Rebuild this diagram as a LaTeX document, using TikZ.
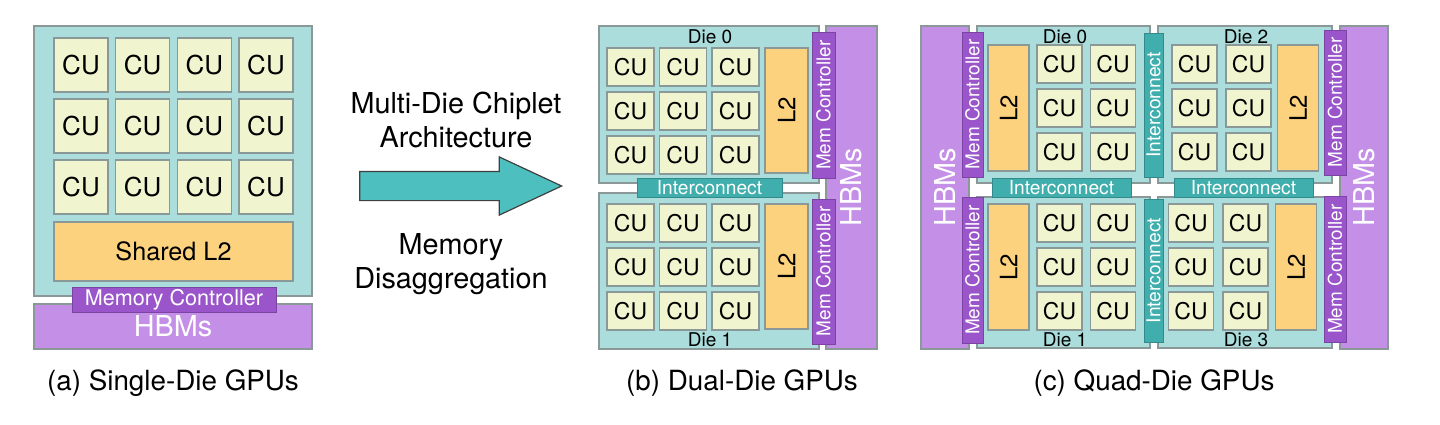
\documentclass[tikz,border=0pt]{standalone}
\usepackage{fontspec}
\setmainfont{TeX Gyre Heros}
\usetikzlibrary{shapes.arrows,positioning}
\definecolor{dieBg}{HTML}{AADDDB}
\definecolor{cuFill}{HTML}{F0F5D0}
\definecolor{lTwo}{HTML}{FDD27F}
\definecolor{memCtl}{HTML}{9A55CA}
\definecolor{hbmFill}{HTML}{C38FE7}
\definecolor{icFill}{HTML}{3FAEAC}
\definecolor{arrFill}{HTML}{4CBFBE}
\definecolor{edge}{HTML}{8A9898}

\newcommand{\fs}[1]{\fontsize{#1}{1.25\dimexpr#1pt\relax}\selectfont}

\begin{document}
\begin{tikzpicture}[x=0.5pt, y=-0.5pt, font=\fs{9.5},
  bx/.style={draw=edge, line width=0.6pt, inner sep=0pt},
  sz/.style 2 args={minimum width=#1, minimum height=#2},
  die/.style={bx, fill=dieBg},
  cu/.style={bx, fill=cuFill},
  ltwo/.style={bx, fill=lTwo},
  mc/.style={draw=memCtl!80!black, line width=0.4pt, fill=memCtl, text=white, inner sep=0pt},
  hbm/.style={bx, fill=hbmFill, text=white, font=\fs{14.4}},
  ic/.style={draw=icFill!80!black, line width=0.4pt, fill=icFill, text=white, inner sep=0pt, font=\fs{9.6}},
  lbl/.style={inner sep=0pt, font=\fs{9.5}},
  arrtxt/.style={align=center, font=\fontsize{14.4}{17}\selectfont},
  subcap/.style={anchor=base, inner sep=0pt, font=\fs{13.9}}]
\useasboundingbox (0,0) rectangle (1440,424);

% (a) single die
\node[die, sz={139pt}{135pt}] (gpuA) at (173,161) {};
\foreach \c in {0,...,3} \foreach \r in {0,1,2}
  \node[cu, sz={27pt}{27pt}, font=\fs{13}] (cuA-\r\c) at ({81+61.67*\c},{65+61*\r}) {CU};
\node[ltwo, sz={119.5pt}{29.5pt}, font=\fs{12.6}] (l2A) at (173.5,251.5) {Shared L2};
\node[hbm, sz={139pt}{22.5pt}] (hbmA) at (173,326.5) {HBMs};
\node[mc, sz={102pt}{12.5pt}, font=\fs{10.8}] (mcA) at (174,299.5) {Memory Controller};
\node[subcap] (capA) at (173,390) {(a) Single-Die GPUs};

% arrow
\node[single arrow, draw=black!75, line width=0.6pt, fill=arrFill, inner xsep=0pt, inner ysep=7pt,
  sz={28.5pt}{101pt}, single arrow head extend=7.25pt, single arrow tip angle=50] (arr) at (445,186) {};
\node[arrtxt] (archTxt) at (456,120) {Multi-Die Chiplet\\Architecture};
\node[arrtxt] (memTxt) at (451,264) {Memory\\Disaggregation};

% (b) dual die
\node[die, sz={110pt}{78.5pt}] (d0B) at (709,104.5) {};
\node[die, sz={110pt}{78pt}] (d1B) at (709,271) {};
\node[hbm, rotate=90, sz={161.5pt}{25.5pt}] (hbmB) at (851.5,187.5) {HBMs};
\node[mc, rotate=90, sz={73pt}{11.5pt}] (mc0B) at (823.5,105) {Mem Controller};
\node[mc, rotate=90, sz={72.5pt}{11.5pt}] (mc1B) at (823.5,271.5) {Mem Controller};
\node[ic, sz={72.5pt}{9.5pt}] (icB) at (709.5,187.5) {Interconnect};
\foreach \d/\y in {0/67,1/223} {
  \foreach \c in {0,1,2} \foreach \r in {0,1,2}
    \node[cu, sz={23.5pt}{19pt}, font=\fs{11.5}] (cuB\d-\r\c) at ({630.5+52.5*\c},{\y+44*\r}) {CU};
  \node[ltwo, rotate=90, sz={62.5pt}{21.5pt}, font=\fs{12}] (l2B\d) at (786.5,{\y+43.5}) {L2};
}
\node[lbl] (t0B) at (710,37) {Die 0};
\node[lbl] (t1B) at (710,340) {Die 1};
\node[subcap] (capB) at (742,390) {(b) Dual-Die GPUs};

% (c) quad die
\node[hbm, rotate=90, sz={161.5pt}{24pt}] (hbmLC) at (945,187.5) {HBMs};
\node[hbm, rotate=90, sz={161.5pt}{24pt}] (hbmRC) at (1364,187.5) {HBMs};
\node[die, sz={86.5pt}{78.5pt}] (d0C) at (1063.5,104.5) {};
\node[die, sz={87pt}{78.5pt}] (d2C) at (1245,104.5) {};
\node[die, sz={86.5pt}{75.5pt}] (d1C) at (1063.5,272.5) {};
\node[die, sz={87pt}{75.5pt}] (d3C) at (1245,272.5) {};
\node[mc, rotate=90, sz={72.5pt}{10.5pt}] (mc0C) at (972.5,104.5) {Mem Controller};
\node[mc, rotate=90, sz={73pt}{10.5pt}] (mc1C) at (972.5,270) {Mem Controller};
\node[mc, rotate=90, sz={72.5pt}{11pt}] (mc2C) at (1335,102.5) {Mem Controller};
\node[mc, rotate=90, sz={73pt}{11pt}] (mc3C) at (1335,269) {Mem Controller};
\node[ic, sz={69.5pt}{9.5pt}] (icLC) at (1061.5,187.5) {Interconnect};
\node[ic, sz={69.5pt}{9.5pt}] (icRC) at (1243.5,187.5) {Interconnect};
\node[ic, rotate=90, sz={72pt}{9.5pt}] (icTC) at (1153.5,105) {Interconnect};
\node[ic, rotate=90, sz={71.5pt}{9.5pt}] (icBC) at (1153.5,270.5) {Interconnect};
\foreach \d/\x/\y/\p/\lx in {0/1059.5/64/53.5/1008.5, 1/1059.5/223/53.5/1008.5,
                           2/1194.5/64/54/1298, 3/1191/223/54.5/1296} {
  \foreach \c in {0,1} \foreach \r in {0,1,2}
    \node[cu, sz={22.5pt}{19pt}, font=\fs{11.5}] (cuC\d-\r\c) at ({\x+\p*\c},{\y+44*\r}) {CU};
  \node[ltwo, rotate=90, sz={63pt}{20.5pt}, font=\fs{12}] (l2C\d) at (\lx,{\y+44}) {L2};
}
\node[lbl] (t0C) at (1065,37) {Die 0};
\node[lbl] (t2C) at (1246,37) {Die 2};
\node[lbl] (t1C) at (1065,340) {Die 1};
\node[lbl] (t3C) at (1246,340) {Die 3};
\node[subcap] (capC) at (1154,390) {(c) Quad-Die GPUs};
\end{tikzpicture}
\end{document}
